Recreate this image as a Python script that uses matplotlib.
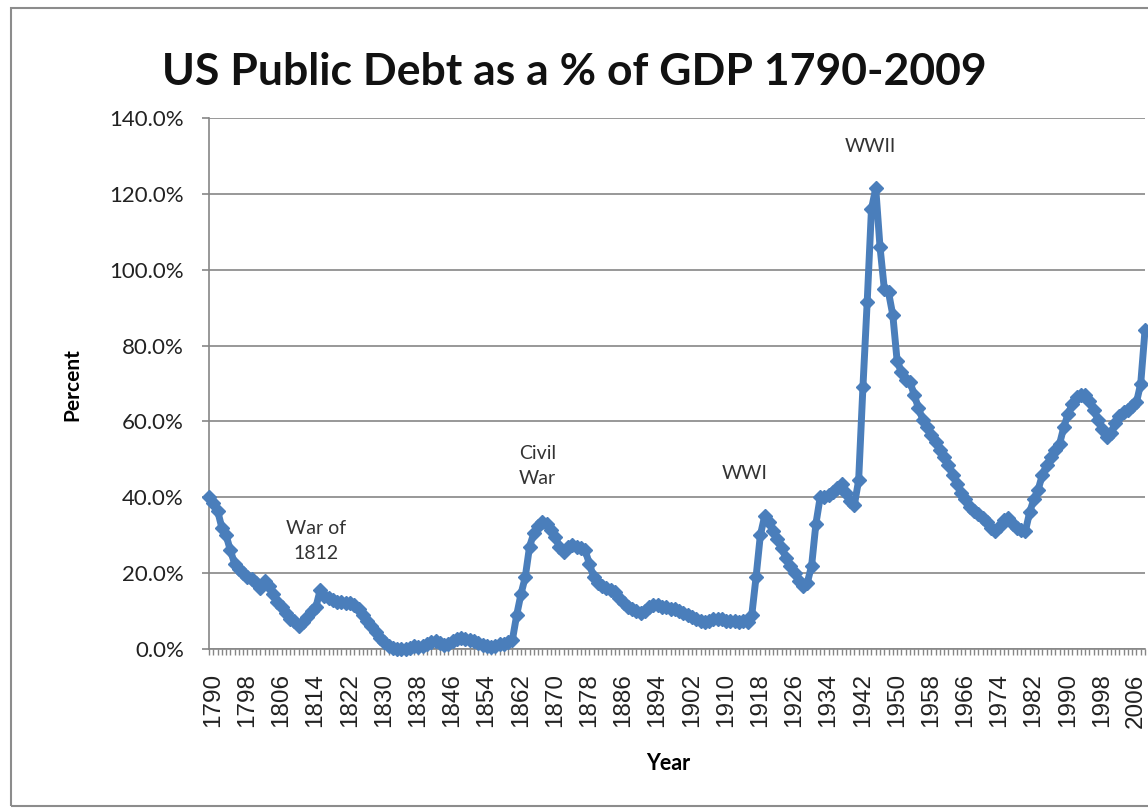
import numpy as np
import matplotlib
matplotlib.use("Agg")
import matplotlib.pyplot as plt
import matplotlib.transforms as mtransforms
from matplotlib.patches import Rectangle
from matplotlib.ticker import FuncFormatter, MultipleLocator, FixedLocator

# US public debt as % of GDP, one value per year 1790-2009
years = list(range(1790, 2010))
debt_pct = [
    40.0, 38.5, 36.5, 32.0, 30.0, 26.0, 22.5, 21.0, 20.0, 19.0,   # 1790s
    18.5, 17.5, 16.0, 18.0, 16.5, 14.5, 12.5, 11.0, 9.5, 8.0,     # 1800s
    7.5, 6.0, 7.0, 8.5, 10.0, 11.0, 15.5, 14.0, 13.5, 13.0,       # 1810s
    12.5, 12.5, 12.0, 12.0, 11.5, 10.5, 9.0, 7.5, 6.0, 4.5,       # 1820s
    3.0, 1.8, 0.8, 0.3, 0.1, 0.0, 0.1, 0.3, 0.8, 0.6,             # 1830s
    0.8, 1.2, 1.8, 2.2, 1.5, 1.0, 1.2, 2.0, 2.6, 2.8,             # 1840s
    2.6, 2.4, 2.0, 1.6, 1.0, 0.8, 0.6, 0.8, 1.2, 1.4,             # 1850s
    1.8, 2.5, 9.0, 14.5, 19.0, 27.0, 30.5, 32.5, 33.5, 33.0,      # 1860s
    31.5, 29.5, 27.0, 25.5, 27.0, 27.5, 27.0, 26.5, 26.0, 22.5,   # 1870s
    19.0, 17.5, 16.5, 16.0, 15.5, 15.0, 13.5, 12.0, 11.0, 10.5,   # 1880s
    10.0, 9.5, 10.0, 11.0, 11.5, 11.5, 11.0, 11.0, 10.5, 10.5,    # 1890s
    10.0, 9.5, 9.0, 8.5, 8.0, 7.5, 7.0, 7.5, 8.0, 8.0,            # 1900s
    8.0, 7.5, 7.5, 7.5, 7.0, 7.5, 7.0, 9.0, 19.0, 30.0,           # 1910s
    35.0, 33.5, 31.0, 29.0, 26.5, 24.0, 22.0, 20.0, 18.0, 16.5,   # 1920s
    17.5, 22.0, 33.0, 40.0, 40.0, 40.5, 41.5, 42.5, 43.5, 41.0,   # 1930s
    39.0, 38.0, 44.5, 69.0, 91.5, 116.0, 121.5, 106.0, 95.0, 94.0,  # 1940s
    88.0, 76.0, 73.0, 71.0, 70.5, 67.0, 63.5, 60.5, 58.5, 56.5,   # 1950s
    54.5, 52.5, 50.5, 48.5, 46.0, 43.5, 41.0, 39.5, 37.5, 36.5,   # 1960s
    35.5, 34.5, 33.5, 32.0, 31.0, 32.5, 34.0, 34.5, 33.0, 32.0,   # 1970s
    31.5, 31.0, 36.0, 39.5, 42.0, 46.0, 48.5, 50.5, 52.5, 54.0,   # 1980s
    58.5, 62.0, 64.5, 66.5, 67.0, 67.0, 65.5, 63.0, 60.5, 58.0,   # 1990s
    56.0, 57.0, 59.5, 61.5, 62.5, 63.0, 64.0, 65.0, 70.0, 84.0,   # 2000s
]
label_years = list(range(1790, 2010, 8))
y_ticks = [0, 20, 40, 60, 80, 100, 120, 140]
notes = ["War of\n1812", "Civil\nWar", "WWI", "WWII"]
note_pos = [(1815.0, 28.5), (1866.8, 48.2), (1915.3, 46.3), (1944.8, 132.5)]

W, H = 1148, 810
fig = plt.figure(figsize=(W / 100, H / 100), dpi=100)
fig.patch.set_facecolor("white")

# chart frame (cut off on the right like the screenshot)
fig.patches.append(Rectangle((11 / W, 4 / H), 1.2, (806 - 8) / H,
                             transform=fig.transFigure, fill=False,
                             edgecolor="#8c8c8c", linewidth=1.5))

ax = fig.add_axes([209 / W, 161 / H, 936 / W, 531 / H])
ax.plot(years, debt_pct, color="#4A7EBB", linewidth=5, marker="D",
        markersize=7, markerfacecolor="#4A7EBB", markeredgecolor="#4A7EBB",
        clip_on=False, zorder=3)

ax.set_xlim(1790, 2009)
ax.set_ylim(0, 140)
ax.yaxis.set_major_locator(FixedLocator(y_ticks))
ax.yaxis.set_major_formatter(FuncFormatter(lambda v, p: f"{v:.1f}%"))
ax.xaxis.set_major_locator(FixedLocator(label_years))
ax.xaxis.set_minor_locator(MultipleLocator(1))
ax.grid(axis="y", color="#868686", linewidth=1.2)
ax.set_axisbelow(True)

for side in ["top", "right"]:
    ax.spines[side].set_visible(False)
for side in ["left", "bottom"]:
    ax.spines[side].set_color("#868686")
    ax.spines[side].set_linewidth(1.2)

ax.tick_params(axis="y", length=5, width=1.2, color="#868686", pad=13,
               labelsize=16, labelcolor="#222222")
ax.tick_params(axis="x", which="both", length=4.5, width=1, color="#868686",
               direction="out")
ax.tick_params(axis="x", which="major", pad=13, labelsize=17.5)
for lab in ax.get_yticklabels():
    lab.set_fontfamily("Lato")
offset = mtransforms.ScaledTranslation(4 / 100, 0, fig.dpi_scale_trans)
for lab in ax.get_xticklabels():
    lab.set_rotation(90)
    lab.set_fontfamily("Liberation Sans")
    lab.set_color("#222222")
    lab.set_transform(lab.get_transform() + offset)

for txt, (nx, ny) in zip(notes, note_pos):
    ax.text(nx, ny, txt, ha="center", va="center", fontsize=14,
            family="Lato", color="#333333", linespacing=1.6)

fig.text(574 / W, 1 - 85 / H, "US Public Debt as a % of GDP 1790-2009",
         ha="center", va="baseline", fontsize=32, fontweight="bold",
         family="Lato", color="#111111")
fig.text(72 / W, 1 - 385 / H, "Percent", rotation=90, ha="center",
         va="center", fontsize=15, fontweight="bold", family="Lato")
fig.text(668 / W, 1 - 764 / H, "Year", ha="center", va="center",
         fontsize=15.5, fontweight="bold", family="Lato")

fig.savefig("out.png", dpi=100)
